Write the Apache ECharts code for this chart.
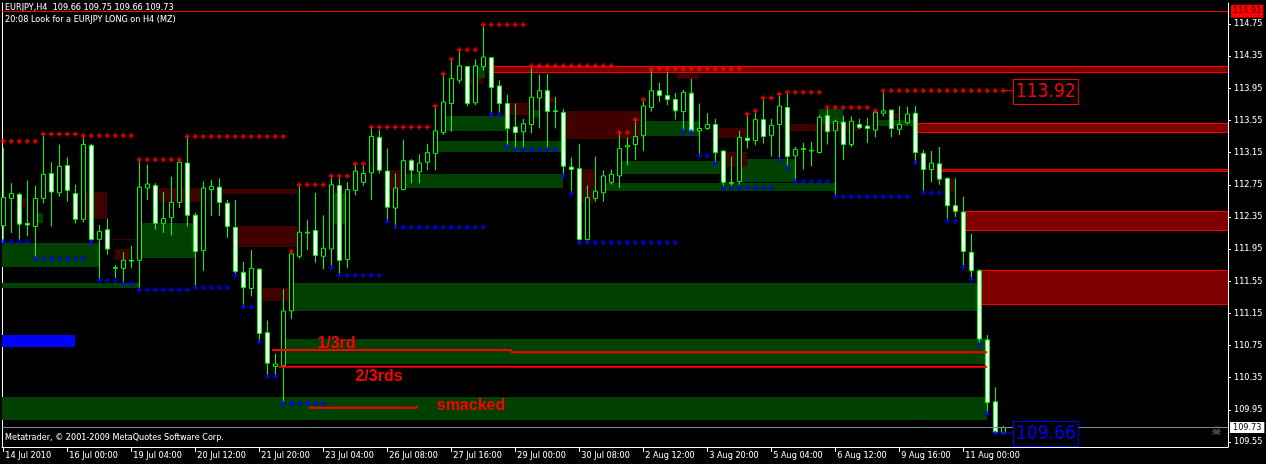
<!DOCTYPE html>
<html><head><meta charset="utf-8">
<script src="https://cdn.jsdelivr.net/npm/echarts@6/dist/echarts.min.js"></script>
<style>html,body{margin:0;padding:0;background:#000;}#c{width:1266px;height:464px;}</style>
</head><body><div id="c"></div>
<script>
// ---------- data ----------
const headerLine1 = 'EURJPY,H4  109.66 109.75 109.66 109.73';
const headerLine2 = '20:08 Look for a EURJPY LONG on H4 (MZ)';
const footerText = 'Metatrader, \u00A9 2001-2009 MetaQuotes Software Corp.';

const timeLabelBars = [0, 8, 16, 24, 32, 40, 48, 56, 64, 72, 80, 88, 96, 104, 112, 120];
const timeLabels = ['14 Jul 2010', '16 Jul 00:00', '19 Jul 04:00', '20 Jul 12:00', '21 Jul 20:00', '23 Jul 04:00',
  '26 Jul 08:00', '27 Jul 16:00', '29 Jul 00:00', '30 Jul 08:00', '2 Aug 12:00', '3 Aug 20:00',
  '5 Aug 04:00', '6 Aug 12:00', '9 Aug 16:00', '11 Aug 00:00'];
const priceTicks = [109.55, 109.95, 110.35, 110.75, 111.15, 111.55, 111.95, 112.35, 112.75, 113.15, 113.55, 113.95, 114.35, 114.75];

const opens = [112.24,112.58,112.63,112.27,112.23,112.58,112.89,112.65,112.99,112.64,112.32,113.24,112.07,112.19,111.71,111.71,111.81,111.81,112.71,112.74,
  112.27,112.34,112.53,113.02,112.37,111.93,112.69,112.72,112.52,112.22,111.66,111.46,111.70,110.91,110.49,110.50,111.18,111.86,112.15,112.18,
  111.86,111.95,112.74,111.82,112.68,112.78,112.90,113.34,112.92,112.46,112.69,113.05,112.91,113.03,113.14,113.40,113.76,114.05,114.22,113.77,
  114.22,114.33,113.98,113.76,113.47,113.41,113.50,113.83,113.92,113.67,113.65,112.97,112.95,112.07,112.58,112.65,112.78,112.86,113.22,113.25,
  113.36,113.71,113.92,113.86,113.81,113.66,113.89,113.42,113.45,113.50,113.17,112.78,112.79,113.33,113.30,113.56,113.36,113.50,113.71,113.11,
  113.19,113.17,113.15,113.61,113.42,113.53,113.25,113.50,113.48,113.43,113.64,113.68,113.44,113.52,113.64,113.14,112.94,113.01,112.83,112.49,
  112.41,111.91,111.68,110.82,110.05,109.66];
const closes = [112.59,112.64,112.26,112.25,112.58,112.88,112.66,112.98,112.68,112.32,113.25,112.07,112.17,111.95,111.72,111.81,111.80,112.72,112.76,112.27,
  112.33,112.53,113.03,112.37,111.92,112.71,112.73,112.53,112.23,111.67,111.47,111.71,110.90,110.53,110.52,111.18,111.89,112.16,112.16,111.87,
  111.96,112.75,111.81,112.69,112.92,112.89,113.35,112.93,112.47,112.71,113.05,112.93,113.02,113.15,113.42,113.78,114.07,114.23,113.76,114.23,
  114.34,113.96,113.76,113.45,113.40,113.51,113.84,113.92,113.66,113.66,112.98,112.94,112.07,112.59,112.67,112.86,112.88,113.20,113.24,113.35,
  113.73,113.92,113.86,113.81,113.67,113.90,113.41,113.45,113.50,113.15,112.78,112.77,113.34,113.30,113.56,113.35,113.49,113.73,113.10,113.19,
  113.20,113.18,113.59,113.41,113.54,113.25,113.54,113.46,113.45,113.65,113.67,113.45,113.50,113.63,113.15,112.94,113.02,112.82,112.49,112.42,
  111.92,111.68,110.83,110.04,109.67,109.73];
const lows = [112.04,112.15,112.06,112.11,111.83,112.52,112.23,112.60,112.54,112.27,112.28,112.03,111.56,111.88,111.59,111.52,111.71,111.44,112.56,112.19,
  112.15,112.12,112.46,112.23,111.47,111.68,112.36,112.36,112.09,111.62,111.23,111.36,110.79,110.36,110.36,110.03,111.08,111.83,111.94,111.78,
  111.70,111.72,111.62,111.71,112.62,112.74,112.56,112.89,112.29,112.22,112.68,112.77,112.77,112.93,112.93,113.37,113.41,114.01,113.73,113.74,
  114.17,113.62,113.64,113.22,113.19,113.20,113.39,113.45,113.20,113.45,112.86,112.64,112.03,112.04,112.54,112.54,112.75,112.71,112.99,113.06,
  113.17,113.66,113.78,113.74,113.56,113.41,113.41,113.11,113.43,113.01,112.71,112.73,112.75,113.20,113.24,113.26,113.10,113.06,112.96,112.79,
  112.94,112.98,113.14,113.25,112.60,113.06,113.22,113.44,113.27,113.34,113.60,113.34,113.37,113.50,113.02,112.65,112.78,112.75,112.30,112.35,
  111.72,111.57,110.76,109.90,109.66,109.66];
const highs = [113.21,112.77,112.65,112.80,112.74,113.38,113.03,113.25,113.09,112.75,113.36,113.26,112.25,112.33,111.75,111.91,111.99,113.06,113.00,112.77,
  112.66,112.85,113.06,113.35,112.40,112.79,112.81,112.83,112.56,112.56,111.79,111.94,111.71,111.06,110.65,111.45,111.92,112.75,112.31,112.65,
  112.37,112.86,112.85,112.78,113.01,112.99,113.47,113.43,113.20,112.89,113.31,113.07,113.13,113.26,113.73,114.13,114.31,114.43,114.23,114.31,
  114.74,114.34,114.05,113.87,113.76,113.57,114.23,114.12,114.13,113.84,113.69,113.09,113.26,112.74,113.10,112.93,112.94,113.40,113.34,113.56,
  113.81,114.19,114.02,114.15,113.89,113.93,114.07,113.76,113.64,113.57,113.18,113.10,113.42,113.63,113.67,113.83,113.57,113.88,113.90,113.22,
  113.27,113.28,113.62,113.71,113.56,113.61,113.60,113.57,113.58,113.67,113.92,113.68,113.73,113.72,113.73,113.18,113.17,113.22,112.84,112.83,
  112.60,112.14,111.70,110.88,110.23,109.75];

// resistance (red) and support (blue) dot levels, one per bar
const resistance = [113.29,113.29,113.29,113.29,113.29,113.38,113.38,113.38,113.38,113.38,113.36,113.36,113.36,113.36,113.36,113.36,113.36,
  113.06,113.06,113.06,113.06,113.06,113.06,113.35,113.35,113.35,113.35,113.35,113.35,113.35,113.35,113.35,113.35,113.35,113.35,113.35,
  111.92,112.75,112.75,112.75,112.75,112.86,112.86,112.86,113.01,113.01,113.47,113.47,113.47,113.47,113.47,113.47,113.47,113.47,
  113.73,114.13,114.31,114.43,114.43,114.43,114.74,114.74,114.74,114.74,114.74,114.74,
  114.23,114.23,114.23,114.23,114.23,114.23,114.23,114.23,114.23,114.23,114.23,113.40,113.40,113.56,113.81,
  114.19,114.19,114.19,114.19,114.19,114.19,114.19,114.19,114.19,114.19,114.19,114.19,113.63,113.67,113.83,113.83,113.88,
  113.90,113.90,113.90,113.90,113.90,113.71,113.71,113.71,113.71,113.71,113.71,113.67,
  113.92,113.92,113.92,113.92,113.92,113.92,113.92,113.92,113.92,113.92,113.92,113.92,113.92,113.92,113.92,113.92];
const support = [112.04,112.04,112.04,112.04,111.83,111.83,111.83,111.83,111.83,111.83,111.83,112.03,111.56,111.56,111.56,111.52,111.52,
  111.44,111.44,111.44,111.44,111.44,111.44,111.44,111.47,111.47,111.47,111.47,111.47,111.62,111.23,111.23,110.79,110.36,110.36,
  110.03,110.03,110.03,110.03,110.03,110.03,111.72,111.62,111.62,111.62,111.62,111.62,111.62,112.29,
  112.22,112.22,112.22,112.22,112.22,112.22,112.22,112.22,112.22,112.22,112.22,112.22,113.62,113.62,113.22,
  113.19,113.19,113.19,113.19,113.19,113.19,112.86,112.64,
  112.03,112.03,112.03,112.03,112.03,112.03,112.03,112.03,112.03,112.03,112.03,112.03,112.03,113.41,113.41,113.11,113.11,113.01,
  112.71,112.71,112.71,112.71,112.71,112.71,112.71,113.06,112.96,112.79,112.79,112.79,112.79,112.79,
  112.60,112.60,112.60,112.60,112.60,112.60,112.60,112.60,112.60,112.60,113.02,112.65,112.65,112.65,112.30,112.30,
  111.72,111.57,110.76,109.90,109.66,109.66];

// zones: [fromBar, toBar, topPrice, bottomPrice]
const greenZones = [[-2,11.9,112.02,111.73],[-2,16.9,111.53,111.47],[4.2,5,112.40,112.27],[17.1,24,112.27,111.84],
  [36,122,111.53,111.18],[35,123,110.83,110.52],[-2,123,110.11,109.82],[41,42.7,112.65,112.26],
  [50,70,112.88,112.71],[54,70,113.29,113.16],[55,63,113.60,113.42],[59.2,60.2,114.21,114.08],[66.2,67,113.68,113.59],
  [77,89.6,113.05,112.88],[75,104,112.77,112.67],[80,87,113.54,113.36],[92.3,99,113.07,112.79],[102,105,113.69,113.48],
  [109.3,114.2,113.55,113.48]];
const darkRedZones = [[10.2,12.9,112.66,112.32],[2.1,3,112.58,112.47],[14,15.8,111.95,111.82],[13.3,16.7,112.07,112.06],
  [27.3,36.8,112.70,112.63],[29.2,36.8,112.24,111.97],[32.3,35.8,111.46,111.30],[19.4,24.8,112.71,112.54],
  [48,50,112.93,112.68],[58,60,114.08,114.00],[63,66.2,113.77,113.62],[68.3,69,113.84,113.78],[70,79.8,113.67,113.32],
  [72.3,74,112.95,112.52],[84.2,87,114.13,114.07],[89.2,93,113.46,113.33],[90.2,93,113.16,112.97],[98.3,107,113.51,113.42],
  [111.2,112,113.64,113.57],[118.2,119,112.82,112.66]];
const maroonZones = [[61.1,170,114.23,114.14],[114.3,170,113.52,113.39],[117.3,170,112.95,112.91],[120.2,170,112.42,112.17],[122.1,170,111.69,111.25]];
const blueBox = [[-2,8.96,110.88,110.73]];

const highLine = 114.91, lastPrice = 109.73;
const tagLevels = [113.92, 109.66];
const tagColors = ['#ff0000', '#0000ff'];
const tagBar = 126.34;

const lineThird = [[33.6,110.694],[63.5,110.694],[63.5,110.665],[123,110.665]];
const lineTwoThirds = [[34.4,110.486],[123,110.486]];
const lineSmacked = [[38.2,109.977],[51.7,109.977],[51.7,110.0]];
const notes = [[41.65,110.775,'1/3rd'],[46.96,110.358,'2/3rds'],[58.46,109.997,'smacked']];

// ---------- chart ----------
const SMALL = "'DejaVu Sans Condensed','Liberation Sans Narrow',sans-serif";
const SMALL_FONT = "9px 'DejaVu Sans Condensed', sans-serif";
const X_MIN = -0.1625, X_MAX = 153.0875, Y_MIN = 109.4875, Y_MAX = 115.0113;

function zoneSeries(name, zones, fill, edge, z) {
  return {
    type: 'custom', name: name, z: z, silent: true, clip: true,
    data: zones,
    encode: { x: [0, 1], y: [2, 3] },
    renderItem: function (params, api) {
      const a = api.coord([api.value(0), api.value(2)]);
      const b = api.coord([api.value(1), api.value(3)]);
      const x = Math.round(a[0]), y = Math.round(a[1]);
      const w = Math.round(b[0]) - x, h = Math.max(1, Math.round(b[1]) - y);
      const ch = [{ type: 'rect', shape: { x: x, y: y, width: w, height: h }, style: { fill: fill } }];
      if (edge) {
        ch.push({ type: 'rect', shape: { x: x, y: y, width: w, height: 1 }, style: { fill: edge } });
        ch.push({ type: 'rect', shape: { x: x, y: y + h - 1, width: w, height: 1 }, style: { fill: edge } });
      }
      return { type: 'group', children: ch };
    }
  };
}

const PLUS = 'path://M1.5,0H3.5V1.5H5V3.5H3.5V5H1.5V3.5H0V1.5H1.5Z';
const chart = echarts.init(document.getElementById('c'), null, { renderer: 'canvas', width: 1266, height: 464 });
const option = {
  backgroundColor: '#000',
  animation: false,
  grid: { left: 2, right: 38, top: 3, bottom: 17, show: false },
  xAxis: {
    type: 'value', min: X_MIN, max: X_MAX,
    axisLine: { show: true, onZero: false, lineStyle: { color: '#fff', width: 1 } },
    axisTick: { show: true, customValues: timeLabelBars, length: 5, lineStyle: { color: '#fff' } },
    axisLabel: {
      show: true, customValues: timeLabelBars,
      formatter: function (v) { const k = timeLabelBars.indexOf(Math.round(v)); return k >= 0 ? timeLabels[k] : ''; },
      color: '#fff', fontFamily: SMALL, fontSize: 9, align: 'left', margin: 4, padding: [0, 0, 0, 2]
    },
    splitLine: { show: false }
  },
  yAxis: [{
    type: 'value', position: 'right', min: Y_MIN, max: Y_MAX,
    axisLine: { show: true, onZero: false, lineStyle: { color: '#fff', width: 1 } },
    axisTick: { show: true, customValues: priceTicks, length: 3, lineStyle: { color: '#fff' } },
    axisLabel: { show: true, customValues: priceTicks, formatter: function (v) { return v.toFixed(2); },
      color: '#fff', fontFamily: SMALL, fontSize: 9, margin: 6 },
    splitLine: { show: false }
  }, {
    type: 'value', position: 'left', min: Y_MIN, max: Y_MAX,
    axisLine: { show: true, onZero: false, lineStyle: { color: '#fff', width: 1 } },
    axisTick: { show: false }, axisLabel: { show: false }, splitLine: { show: false }
  }],
  series: [
    zoneSeries('green', greenZones, '#004000', null, 1),
    zoneSeries('darkred', darkRedZones, '#400000', null, 1),
    zoneSeries('maroon', maroonZones, '#800000', '#ff0000', 1),
    zoneSeries('blue', blueBox, '#0000ff', null, 1),
    {
      type: 'candlestick', name: 'EURJPY', z: 3, silent: true,
      data: opens.map(function (o, i) { return [i, o, closes[i], lows[i], highs[i]]; }),
      barWidth: 5,
      itemStyle: { color: '#000', color0: '#fff', borderColor: '#00ff00', borderColor0: '#00ff00', borderColorDoji: '#00ff00', borderWidth: 1 },
      markLine: {
        silent: true, symbol: 'none', animation: false,
        data: [
          { yAxis: highLine, lineStyle: { color: '#ff0000', type: 'solid', width: 1 },
            label: { show: true, position: 'end', distance: 3, formatter: highLine.toFixed(2), backgroundColor: '#ff0000', color: '#400000',
              padding: [2, 2, 1, 2], fontFamily: SMALL, fontSize: 9, lineHeight: 10 } },
          { yAxis: lastPrice, lineStyle: { color: '#778899', type: 'solid', width: 1 },
            label: { show: true, position: 'end', distance: 2, formatter: lastPrice.toFixed(2), backgroundColor: '#fff', color: '#000',
              padding: [1, 3, 0, 3], fontFamily: SMALL, fontSize: 9, lineHeight: 10 } }
        ]
      }
    },
    { type: 'scatter', name: 'resistance', z: 4, silent: true, symbol: PLUS, symbolSize: 5,
      data: resistance.map(function (v, i) { return [i, v]; }), itemStyle: { color: '#ff0000' } },
    { type: 'scatter', name: 'support', z: 4, silent: true, symbol: PLUS, symbolSize: 5,
      data: support.map(function (v, i) { return [i, v]; }), itemStyle: { color: '#0000ff' } },
    { type: 'line', z: 4, silent: true, symbol: 'none', lineStyle: { color: tagColors[0], width: 1 },
      data: [[resistance.length - 1, tagLevels[0]], [tagBar, tagLevels[0]]] },
    { type: 'line', z: 4, silent: true, symbol: 'none', lineStyle: { color: tagColors[1], width: 1 },
      data: [[support.length - 1, tagLevels[1]], [tagBar, tagLevels[1]]] },
    { type: 'line', z: 5, silent: true, symbol: 'none', lineStyle: { color: '#ff0000', width: 2 }, data: lineThird },
    { type: 'line', z: 5, silent: true, symbol: 'none', lineStyle: { color: '#ff0000', width: 2 }, data: lineTwoThirds },
    { type: 'line', z: 5, silent: true, symbol: 'none', lineStyle: { color: '#ff0000', width: 2 }, data: lineSmacked }
  ]
};
chart.setOption(option);

// text elements placed through the chart's own coordinate conversion
const g = [
  { type: 'text', x: 5, y: 3, z: 0, style: { text: headerLine1, fill: '#fff', font: SMALL_FONT } },
  { type: 'text', x: 5, y: 15, z: 0, style: { text: headerLine2, fill: '#fff', font: SMALL_FONT } },
  { type: 'text', x: 5, y: 433, z: 0, style: { text: footerText, fill: '#fff', font: SMALL_FONT } },
  { type: 'text', x: 1211, y: 426, z: 0, style: { text: '\u2620', fill: '#808080', font: "12px 'DejaVu Sans', sans-serif" } }
];
notes.forEach(function (n) {
  const p = chart.convertToPixel({ gridIndex: 0 }, [n[0], n[1]]);
  g.push({ type: 'text', x: p[0], y: p[1], z: 100,
    style: { text: n[2], fill: '#ff0000', font: "bold 16px 'Liberation Sans', Arial, sans-serif", align: 'center', verticalAlign: 'middle' } });
});
tagLevels.forEach(function (lv, k) {
  const p = chart.convertToPixel({ gridIndex: 0 }, [tagBar, lv]);
  g.push({ type: 'text', x: Math.round(p[0]), y: Math.round(p[1]) + 1, z: 100,
    style: { text: lv.toFixed(2), fill: tagColors[k], font: "19px 'DejaVu Sans Condensed', sans-serif", align: 'left', verticalAlign: 'middle',
      backgroundColor: '#000', borderColor: tagColors[k], borderWidth: 1, padding: [2, 2, 1, 2], lineHeight: 21 } });
});
chart.setOption({ graphic: g });
</script></body></html>
